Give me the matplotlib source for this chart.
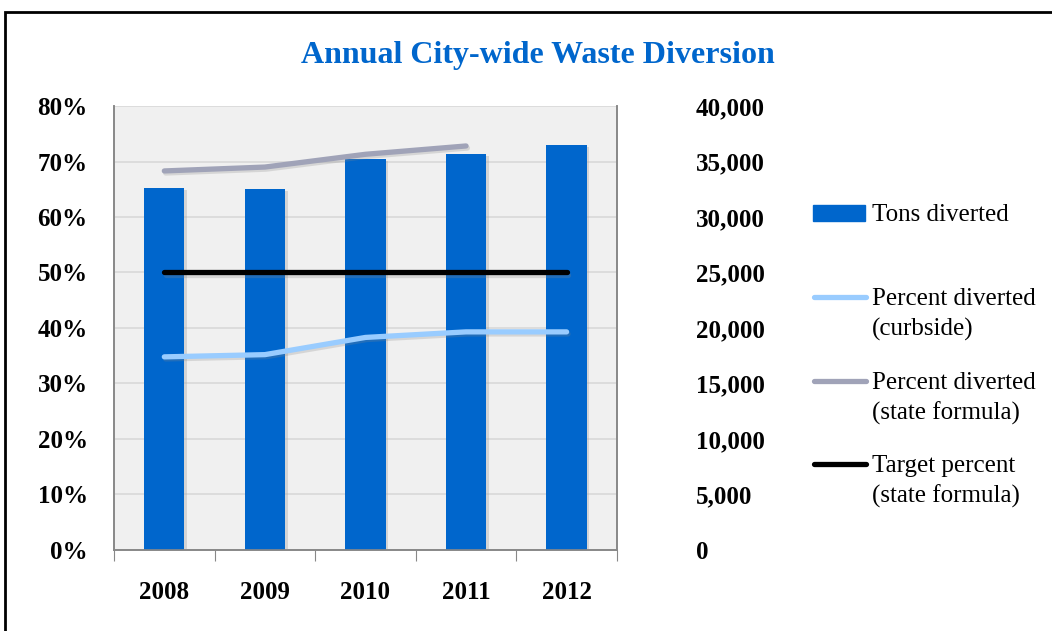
import numpy as np
import matplotlib.pyplot as plt
import matplotlib.patheffects as pe
from matplotlib.patches import Rectangle
from matplotlib.lines import Line2D
from matplotlib.ticker import FuncFormatter, MultipleLocator

plt.rcParams['font.family'] = ['Liberation Serif', 'DejaVu Serif']

# data
years = ['2008', '2009', '2010', '2011', '2012']
tons_diverted = [32600, 32500, 35200, 35700, 36500]
pct_curbside = [0.348, 0.352, 0.383, 0.393, 0.393]
pct_state = [0.683, 0.690, 0.713, 0.728]
target_pct = [0.50, 0.50, 0.50, 0.50, 0.50]

bar_color = '#0066cc'
curb_color = '#99ccff'
state_color = '#a0a3b8'
target_color = '#000000'
title_color = '#0066cc'

x = np.arange(len(years))

fig = plt.figure(figsize=(10.52, 6.31), dpi=100)
ax2 = fig.add_axes([0.1084, 0.1284, 0.478, 0.7036])
ax = ax2.twinx()
# percent axis on the left, tons on the right
ax.yaxis.tick_left()
ax2.yaxis.tick_right()

ax2.set_facecolor('#f0f0f0')
ax.patch.set_visible(False)
ax.set_zorder(ax2.get_zorder() + 1)

shadow = [pe.SimplePatchShadow(offset=(2, -1.5), shadow_rgbFace='#aaaaaa', alpha=0.4), pe.Normal()]
bars = ax2.bar(x, tons_diverted, width=0.4, color=bar_color, zorder=3)
for b in bars:
    b.set_path_effects(shadow)

line_fx = [pe.SimpleLineShadow(offset=(1, -1.5), shadow_color='#888888', alpha=0.25), pe.Normal()]
ax.plot(x[:len(pct_state)], pct_state, color=state_color, lw=3.8, solid_capstyle='round', path_effects=line_fx)
ax.plot(x, target_pct, color=target_color, lw=3.8, solid_capstyle='round', path_effects=line_fx)
ax.plot(x, pct_curbside, color=curb_color, lw=3.8, solid_capstyle='round', path_effects=line_fx)

ax.set_xlim(-0.5, 4.5)
ax.set_ylim(0, 0.8)
ax2.set_ylim(0, 40000)
ax.yaxis.set_major_locator(MultipleLocator(0.1))
ax2.yaxis.set_major_locator(MultipleLocator(5000))
ax.yaxis.set_major_formatter(FuncFormatter(lambda v, p: f'{v*100:.0f}%'))
ax2.yaxis.set_major_formatter(FuncFormatter(lambda v, p: f'{v:,.0f}'))

ax2.grid(axis='y', color='#d9d9d9', lw=1.2, zorder=0)
ax2.set_axisbelow(True)

# x ticks at the category boundaries, labels centred under each year
ax2.set_xticks(np.arange(-0.5, 5, 1))
ax2.set_xticklabels([])
ax2.set_xticks(x, minor=True)
ax2.set_xticklabels(years, minor=True, fontsize=18, fontweight='bold')
ax2.tick_params(axis='x', which='major', length=8, color='#888888', direction='out')
ax2.tick_params(axis='x', which='minor', length=0, pad=22)

ax.tick_params(axis='y', length=0, labelsize=18, pad=19)
ax2.tick_params(axis='y', length=0, labelsize=18, pad=57)
for lab in ax.get_yticklabels() + ax2.get_yticklabels():
    lab.set_fontweight('bold')

for a in (ax, ax2):
    a.spines['top'].set_visible(False)
    for s in ('left', 'right', 'bottom'):
        a.spines[s].set_color('#888888')
        a.spines[s].set_linewidth(1.2)

fig.text(0.511, 1 - 55 / 631, 'Annual City-wide Waste Diversion', ha='center', va='center',
         fontsize=23, fontweight='bold', color=title_color)

# legend drawn by hand so the handles line up with the first text line
legend_items = [
    ('bar', bar_color, 'Tons diverted', 213),
    ('line', curb_color, 'Percent diverted\n(curbside)', 297),
    ('line', state_color, 'Percent diverted\n(state formula)', 381),
    ('line', target_color, 'Target percent\n(state formula)', 464),
]
H = 631.0
W = 1052.0
for kind, col, text, ypx in legend_items:
    yf = 1 - ypx / H
    if kind == 'bar':
        fig.add_artist(Rectangle((813 / W, yf - 8 / H), 52 / W, 16 / H, color=col,
                                 transform=fig.transFigure))
    else:
        fig.add_artist(Line2D([814 / W, 866 / W], [yf, yf], color=col, lw=3.8,
                              solid_capstyle='round', transform=fig.transFigure))
    fig.text(872 / W, yf + 9 / H, text, ha='left', va='top', fontsize=18,
             linespacing=1.42, color='black')

# outer frame
fig.add_artist(Rectangle((5 / W, -0.2), 1.3, 1.2 - 12 / H, fill=False,
                         edgecolor='black', lw=2, transform=fig.transFigure))

fig.savefig('out.png', dpi=100)
